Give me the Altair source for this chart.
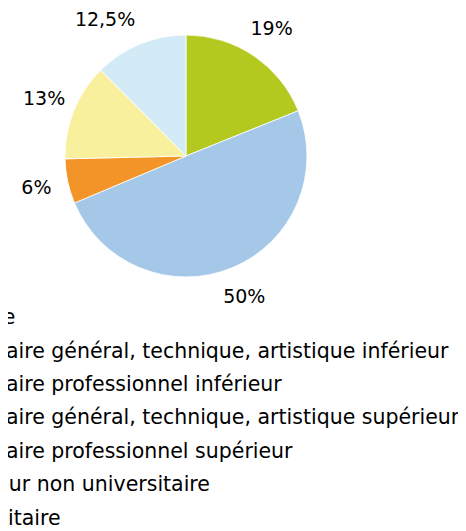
import altair as alt
import pandas as pd

categories = [
    "Primaire",
    "Secondaire général, technique, artistique inférieur",
    "Secondaire professionnel inférieur",
    "Secondaire général, technique, artistique supérieur",
    "Secondaire professionnel supérieur",
    "Supérieur non universitaire",
    "Universitaire",
]
category_colors = ["#7f7f7f", "#c0504d", "#b3c91f", "#a5c8e8", "#f39428", "#f8f09c", "#d3ebf7"]

slice_categories = categories[2:]
slice_values = [19, 50, 6, 13, 12.5]
slice_labels = ["19%", "50%", "6%", "13%", "12,5%"]
slice_order = [0, 1, 2, 3, 4]

df = pd.DataFrame({
    "cat": slice_categories,
    "value": slice_values,
    "label": slice_labels,
    "idx": slice_order,
})

base = alt.Chart(df).encode(
    theta=alt.Theta("value:Q", stack=True),
    order=alt.Order("idx:Q"),
    x=alt.value(178),
    y=alt.value(148),
)

pie = base.mark_arc(outerRadius=121, stroke="white", strokeWidth=0.8).encode(
    color=alt.Color(
        "cat:N",
        scale=alt.Scale(domain=categories, range=category_colors),
        legend=alt.Legend(
            title=None,
            orient="none",
            legendX=-102,
            legendY=300,
            labelFontSize=20.5,
            labelFont="DejaVu Sans",
            labelColor="black",
            labelLimit=1000,
            rowPadding=12.4,
            symbolSize=100,
        ),
    ),
)

text_main = base.mark_text(radius=153, fontSize=19, font="DejaVu Sans", color="black").encode(
    text="label:N",
    opacity=alt.condition("datum.idx == 4", alt.value(0), alt.value(1)),
)

text_last = base.mark_text(
    radius=158, thetaOffset=-0.147, fontSize=19, font="DejaVu Sans", color="black"
).encode(
    text="label:N",
    opacity=alt.condition("datum.idx == 4", alt.value(1), alt.value(0)),
)

chart = (
    alt.layer(pie, text_main, text_last)
    .properties(width=450, height=523, autosize=alt.AutoSizeParams(type="none"), padding=0)
    .configure_view(stroke=None)
)

chart.save("out.html", embed_options={"renderer": "svg", "actions": False})
